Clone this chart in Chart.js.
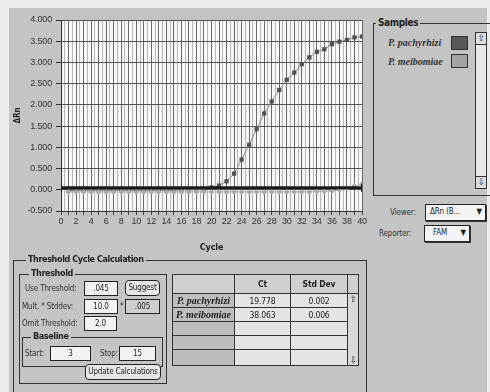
<!DOCTYPE html>
<html>
<head>
<meta charset="utf-8">
<script src="https://cdn.jsdelivr.net/npm/chart.js@4"></script>
<style>
body { margin:0; width:490px; height:392px; overflow:hidden; background:#ececec;
  font-family:"DejaVu Sans Condensed","DejaVu Sans",sans-serif; font-size:8px; letter-spacing:-0.15px; color:#222; position:relative; }
#panel { position:absolute; left:9px; top:8px; width:478px; height:384px; background:#c4c4c4; }
#wrap { position:absolute; left:0; top:0; width:370px; height:256px; }
.abs { position:absolute; white-space:nowrap; }
.group { position:absolute; border:1px solid #333; }
.gtitle { position:absolute; background:#c4c4c4; font-weight:bold; padding:0 2px; font-size:9px; letter-spacing:-0.4px; line-height:11px; white-space:nowrap; }
.field { position:absolute; background:#f2f2f2; border:1px solid #222; text-align:center; line-height:13px; box-sizing:border-box; }
.btn { position:absolute; border:1px solid #222; border-radius:4px; background:#e6e6e6; text-align:center; box-sizing:border-box; line-height:14px; white-space:nowrap; }
.lbl { position:absolute; white-space:nowrap; color:#333; line-height:11px; }
.sp { font-family:"Liberation Serif",serif; font-weight:bold; font-style:italic; font-size:10px; letter-spacing:0; }
.drop { position:absolute; background:#f4f4f4; border:1px solid #222; box-shadow:1px 1px 0 #333; box-sizing:border-box; line-height:14px; padding-left:4px; }
.scroll { position:absolute; background:#e8e8e8; border:1px solid #333; box-sizing:border-box; }
.arr { position:absolute; left:0; width:100%; text-align:center; font-size:9px; line-height:11px; background:#ddd; }
table { position:absolute; left:172px; top:274px; border-collapse:collapse; }
td { border:1px solid #333; padding:0; text-align:center; font-size:8.5px; background:#e4e4e4; height:13px; }
td.nm { background:#bdbdbd; }
</style>
</head>
<body>
<div id="panel"></div>
<div id="wrap"><canvas id="chart" width="370" height="256"></canvas></div>

<!-- Samples -->
<div class="group" style="left:373px;top:23px;width:125px;height:171px;"></div>
<div class="gtitle" style="left:376px;top:17px;font-size:10px;">Samples</div>
<div class="lbl sp" style="left:388px;top:37px;">P. pachyrhizi</div>
<div class="abs" style="left:451px;top:36px;width:15px;height:12px;border:1px solid #333;background:#595959;"></div>
<div class="lbl sp" style="left:388px;top:56px;">P. meibomiae</div>
<div class="abs" style="left:451px;top:54px;width:15px;height:12px;border:1px solid #333;background:#a3a3a3;"></div>
<div class="scroll" style="left:475px;top:32px;width:12px;height:157px;">
  <div class="arr" style="top:0;border-bottom:1px solid #333;">⇧</div>
  <div class="arr" style="bottom:0;border-top:1px solid #333;">⇩</div>
</div>

<div class="lbl" style="left:390px;top:207px;">Viewer:</div>
<div class="drop" style="left:425px;top:204px;width:61px;height:17px;">ΔRn (B... <span style="position:absolute;right:3px;">▼</span></div>
<div class="lbl" style="left:379px;top:228px;">Reporter:</div>
<div class="drop" style="left:424px;top:225px;width:46px;height:17px;padding-left:8px;">FAM <span style="position:absolute;right:3px;">▼</span></div>

<!-- Threshold Cycle Calculation -->
<div class="group" style="left:13px;top:260px;width:352px;height:140px;"></div>
<div class="gtitle" style="left:26px;top:254px;">Threshold Cycle Calculation</div>
<div class="group" style="left:19px;top:274px;width:146px;height:108px;"></div>
<div class="gtitle" style="left:29px;top:268px;">Threshold</div>

<div class="lbl" style="left:25px;top:283px;">Use Threshold:</div>
<div class="field" style="left:84px;top:281px;width:34px;height:15px;">.045</div>
<div class="btn" style="left:125px;top:280px;width:35px;height:16px;">Suggest</div>

<div class="lbl" style="left:22px;top:301px;">Mult. * Stddev:</div>
<div class="field" style="left:84px;top:299px;width:34px;height:15px;">10.0</div>
<div class="lbl" style="left:120px;top:301px;">*</div>
<div class="field" style="left:125px;top:299px;width:35px;height:15px;background:#cfcfcf;">.005</div>

<div class="lbl" style="left:22px;top:318px;">Omit Threshold:</div>
<div class="field" style="left:84px;top:316px;width:33px;height:15px;">2.0</div>

<div class="group" style="left:22px;top:337px;width:139px;height:28px;"></div>
<div class="gtitle" style="left:31px;top:331px;">Baseline</div>
<div class="lbl" style="left:25px;top:348px;">Start:</div>
<div class="field" style="left:50px;top:346px;width:41px;height:15px;">3</div>
<div class="lbl" style="left:100px;top:348px;">Stop:</div>
<div class="field" style="left:119px;top:346px;width:37px;height:15px;">15</div>

<div class="btn" style="left:85px;top:364px;width:76px;height:16px;">Update Calculations</div>

<table>
  <tr><td class="nm" style="width:61px;height:18px;background:#cfcfcf;"></td><td style="width:55px;background:#cfcfcf;font-weight:bold;">Ct</td><td style="width:56px;background:#cfcfcf;font-weight:bold;">Std Dev</td><td style="width:10px;background:#cfcfcf;"></td></tr>
  <tr><td class="nm sp" id="n0"></td><td id="ct0"></td><td id="sd0"></td><td rowspan="5" style="background:#d8d8d8;position:relative;"><div style="position:absolute;top:0;left:0;width:100%;font-size:9px;">⇧</div><div style="position:absolute;bottom:0;left:0;width:100%;font-size:9px;">⇩</div></td></tr>
  <tr><td class="nm sp" id="n1"></td><td id="ct1"></td><td id="sd1"></td></tr>
  <tr><td class="nm"></td><td></td><td></td></tr>
  <tr><td class="nm"></td><td></td><td></td></tr>
  <tr><td class="nm" style="height:15px;"></td><td></td><td></td></tr>
</table>

<script>
const cycles = [1,2,3,4,5,6,7,8,9,10,11,12,13,14,15,16,17,18,19,20,
                21,22,23,24,25,26,27,28,29,30,31,32,33,34,35,36,37,38,39,40];
const pachyrhizi = [-0.02,-0.01,-0.01,-0.01,-0.01,-0.01,-0.01,-0.01,-0.01,-0.01,
                    -0.01,-0.01,-0.01,-0.01,-0.01,0.0,0.0,0.01,0.02,0.055,
                    0.10,0.20,0.38,0.71,1.06,1.43,1.80,2.08,2.35,2.59,
                    2.76,2.96,3.12,3.25,3.31,3.43,3.49,3.53,3.59,3.61];
const meibomiae = [-0.05,-0.05,-0.05,-0.05,-0.05,-0.05,-0.05,-0.05,-0.05,-0.05,
                   -0.05,-0.05,-0.05,-0.05,-0.05,-0.05,-0.05,-0.05,-0.05,-0.05,
                   -0.05,-0.05,-0.05,-0.05,-0.05,-0.05,-0.05,-0.05,-0.05,-0.05,
                   -0.05,-0.05,-0.05,-0.04,-0.04,-0.03,0.0,0.03,0.09,0.13];
const thresholdValue = 0.045;
const thresholdRange = [0, 40];
const sampleNames = ['P. pachyrhizi', 'P. meibomiae'];
const ctValues = ['19.778', '38.063'];
const stdDevValues = ['0.002', '0.006'];

sampleNames.forEach((n, i) => {
    document.getElementById('n' + i).textContent = n;
    document.getElementById('ct' + i).textContent = ctValues[i];
    document.getElementById('sd' + i).textContent = stdDevValues[i];
});

const plotBg = {
    id: 'plotBg',
    beforeDraw(chart) {
        const {ctx, chartArea: a} = chart;
        ctx.save();
        ctx.fillStyle = '#f7f7f7';
        ctx.fillRect(a.left, a.top, a.right - a.left, a.bottom - a.top);
        ctx.restore();
    }
};

const tickFont = { family: 'Liberation Sans', size: 9 };

new Chart(document.getElementById('chart'), {
    type: 'line',
    data: {
        datasets: [
            {
                label: 'threshold',
                data: thresholdRange.map(x => ({x, y: thresholdValue})),
                borderColor: '#1a1a1a',
                borderWidth: 3,
                pointStyle: 'line',
                rotation: 90,
                pointRadius: 4,
                pointBorderWidth: 2,
                pointBorderColor: '#1a1a1a'
            },
            {
                label: sampleNames[1],
                data: cycles.map((c, i) => ({x: c, y: meibomiae[i]})),
                borderColor: '#b5b5b5',
                borderWidth: 1,
                pointStyle: 'rectRot',
                pointRadius: 2.5,
                pointBackgroundColor: '#ababab',
                pointBorderColor: '#ababab'
            },
            {
                label: sampleNames[0],
                data: cycles.map((c, i) => ({x: c, y: pachyrhizi[i]})),
                borderColor: '#8a8a8a',
                borderWidth: 1,
                pointStyle: 'rect',
                pointRadius: 3,
                pointBorderWidth: 0,
                pointBackgroundColor: '#505050',
                pointBorderColor: '#505050'
            }
        ]
    },
    options: {
        responsive: false,
        animation: false,
        layout: { padding: { top: 20, right: 8, left: 0, bottom: 0 } },
        plugins: { legend: { display: false }, tooltip: { enabled: false } },
        scales: {
            x: {
                type: 'linear',
                min: 0,
                max: 40,
                afterFit: s => { s.height = 45; },
                afterBuildTicks: s => {
                    const t = [];
                    for (let v = 0; v <= 40; v += 0.5) t.push({value: v});
                    s.ticks = t;
                },
                ticks: {
                    autoSkip: false,
                    maxRotation: 0,
                    font: tickFont,
                    color: '#333',
                    padding: 1,
                    callback: v => (v % 2 === 0 ? String(v) : '')
                },
                grid: {
                    color: c => (c.tick && c.tick.value % 1 === 0 ? '#6a6a6a' : '#b8b8b8'),
                    tickLength: 4,
                    tickColor: c => (c.tick && c.tick.value % 1 === 0 ? '#444' : 'rgba(0,0,0,0)')
                },
                border: { color: '#333' },
                title: {
                    display: true,
                    text: 'Cycle',
                    font: { family: 'DejaVu Sans Condensed', size: 9, weight: 'bold' },
                    color: '#222',
                    padding: { top: 0, bottom: 3 }
                }
            },
            y: {
                min: -0.5,
                max: 4,
                afterFit: s => { s.width = 61; },
                ticks: {
                    stepSize: 0.5,
                    font: tickFont,
                    color: '#333',
                    padding: 4,
                    callback: v => v.toFixed(3)
                },
                grid: { color: '#555', tickLength: 5, tickColor: '#333' },
                border: { color: '#333' },
                title: {
                    display: true,
                    text: 'ΔRn',
                    font: { family: 'DejaVu Sans Condensed', size: 8, weight: 'bold' },
                    color: '#222',
                    padding: { top: 13, bottom: 0 }
                }
            }
        }
    },
    plugins: [plotBg]
});
</script>
</body>
</html>
